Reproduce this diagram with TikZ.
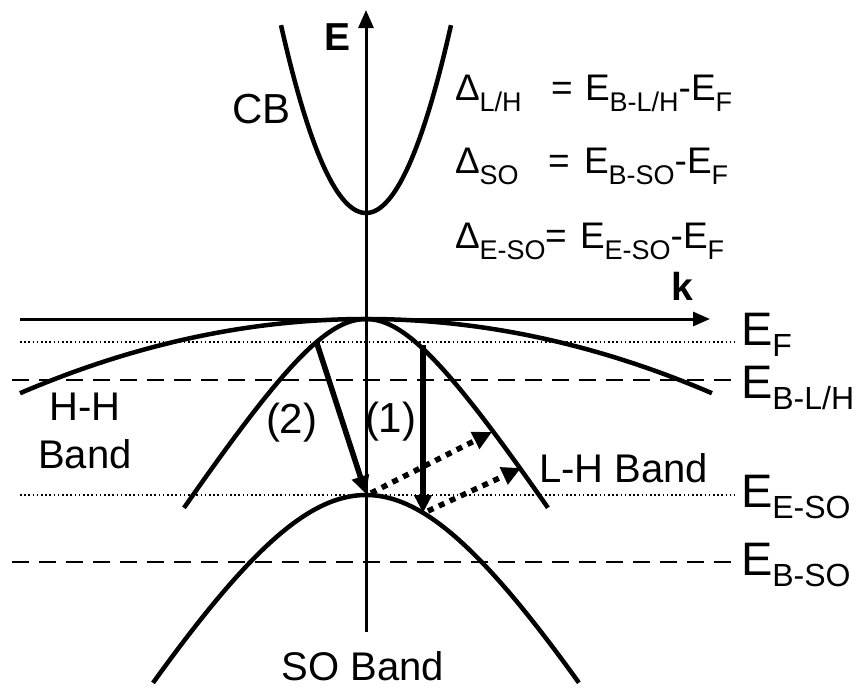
\documentclass[tikz,border=0pt]{standalone}
\usepackage{fontspec}
\setmainfont{Liberation Sans}
\usetikzlibrary{arrows.meta}
\newcommand\lblfont{\fontsize{40}{48}\selectfont}
\newcommand\elblfont{\fontsize{47}{56}\selectfont}
\newcommand\esubfont{\fontsize{32}{38}\selectfont}
\newcommand\eqmainfont{\fontsize{37}{44}\selectfont}
\newcommand\eqsubfont{\fontsize{27}{32}\selectfont}
\newcommand\Esub[1]{\raisebox{-11pt}{\esubfont #1}}
\newcommand\Qsub[1]{\raisebox{-11pt}{\eqsubfont #1}}
\tikzset{
  band/.style={line width=4.5pt},
  axisline/.style={line width=3pt},
  refdot/.style={line width=1.6pt, dash pattern=on 1.6pt off 2.6pt},
  refdash/.style={line width=2pt, dash pattern=on 17pt off 10pt},
  trans/.style={line width=5.5pt, -{Triangle[length=18pt,width=17pt]}},
  dottrans/.style={line width=5.5pt, dash pattern=on 6pt off 6pt, -{Triangle[length=19pt,width=18pt]}},
  txt/.style={inner sep=0pt, outer sep=0pt, font=\lblfont},
  etxt/.style={inner sep=0pt, outer sep=0pt, anchor=base west, font=\elblfont},
  eqtxt/.style={inner sep=0pt, outer sep=0pt, anchor=base west, font=\eqmainfont}
}
\begin{document}
\begin{tikzpicture}[x=1pt,y=-1pt]
\useasboundingbox (0,0) rectangle (859,688);

% reference levels
\coordinate (efL) at (20,342);   \coordinate (efR) at (735,342);
\coordinate (blhL) at (12,380);  \coordinate (blhR) at (738,380);
\coordinate (esoL) at (20,495);  \coordinate (esoR) at (735,495);
\coordinate (bsoL) at (12,562);  \coordinate (bsoR) at (738,562);
\draw[refdot] (efL) -- (efR);
\draw[refdash] (blhL) -- (blhR);
\draw[refdot] (esoL) -- (esoR);
\draw[refdash] (bsoL) -- (bsoR);

% bands
\draw[band] plot[domain=-8.5:8.5, samples=80, smooth] ({366+10*\x},{213-2.6*\x*\x});
\draw[band] plot[domain=-3.46:3.46, samples=80, smooth] ({366+100*\x},{319+6.2*\x*\x});
\draw[band] plot[domain=-1.82:1.82, samples=80, smooth] ({366+100*\x},{319+155*(sqrt(0.5625+\x*\x)-0.75)});
\draw[band] plot[domain=-2.13:2.13, samples=80, smooth] ({366+100*\x},{495+170*(sqrt(2.25+\x*\x)-1.5)});

% axes
\coordinate (Ebot) at (366,632); \coordinate (Etop) at (366,10);
\coordinate (kL) at (20,319);    \coordinate (kR) at (710,319);
\draw[axisline, -{Triangle[length=18pt,width=15pt]}] (Ebot) -- (Etop);
\draw[axisline, -{Triangle[length=17pt,width=14pt]}] (kL) -- (kR);

% transitions
\coordinate (s2) at (316.5,342); \coordinate (t2) at (366,494);
\coordinate (s1) at (423,345);   \coordinate (t1) at (423,513);
\coordinate (d1s) at (371,493);  \coordinate (d1t) at (492,432);
\coordinate (d2s) at (428,511);  \coordinate (d2t) at (521,468);
\draw[trans] (s2) -- (t2);
\draw[trans] (s1) -- (t1);
\draw[dottrans] (d1s) -- (d1t);
\draw[dottrans] (d2s) -- (d2t);

% axis labels
\node[inner sep=0pt, anchor=base west, font=\fontsize{39}{46}\selectfont\bfseries] (Elab) at (324,50) {E};
\node[inner sep=0pt, anchor=base west, font=\fontsize{39}{46}\selectfont\bfseries] (klab) at (671,300) {k};

% band labels
\node[txt, anchor=base west, font=\fontsize{42}{50}\selectfont] (cb) at (232,123) {CB};
\node[txt, anchor=base] (hh1) at (85,420) {H-H};
\node[txt, anchor=base] (hh2) at (85,468) {Band};
\node[txt, anchor=base west] (lh) at (539,482) {L-H Band};
\node[txt, anchor=base] (so) at (363,680) {SO Band};
\node[txt, anchor=base west, font=\fontsize{42}{50}\selectfont] (n2) at (266,433) {(2)};
\node[txt, anchor=base west, font=\fontsize{42}{50}\selectfont] (n1) at (365,432) {(1)};

% level labels
\node[etxt] (lEF) at (741,345) {E\Esub{F}};
\node[etxt] (lEBLH) at (741,398) {E\Esub{B-L/H}};
\node[etxt] (lEESO) at (741,507) {E\Esub{E-SO}};
\node[etxt] (lEBSO) at (741,575) {E\Esub{B-SO}};

% equations
\node[eqtxt] (q1a) at (455,100) {Δ\Qsub{L/H}};
\node[eqtxt] (q1b) at (551,100) {=};
\node[eqtxt] (q1c) at (585,100) {E\Qsub{B-L/H}-E\Qsub{F}};
\node[eqtxt] (q2a) at (455,173) {Δ\Qsub{SO}};
\node[eqtxt] (q2b) at (548,173) {=};
\node[eqtxt] (q2c) at (584,173) {E\Qsub{B-SO}-E\Qsub{F}};
\node[eqtxt] (q3a) at (455,248) {Δ\Qsub{E-SO}};
\node[eqtxt] (q3b) at (545,248) {=};
\node[eqtxt] (q3c) at (580,248) {E\Qsub{E-SO}-E\Qsub{F}};
\end{tikzpicture}
\end{document}
